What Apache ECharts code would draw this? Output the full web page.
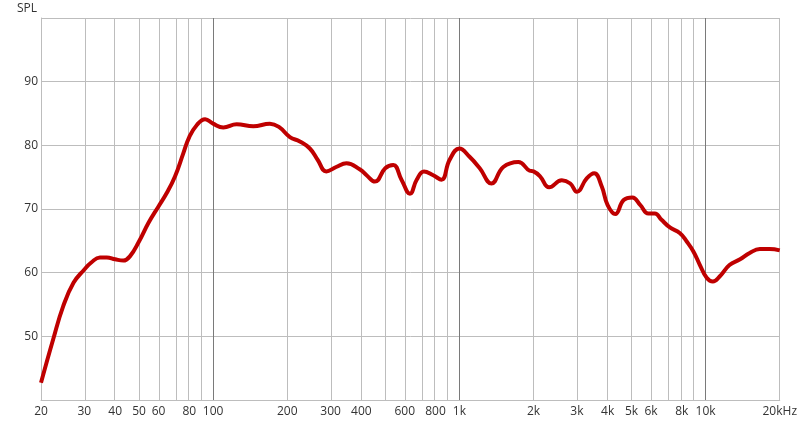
<!DOCTYPE html>
<html>
<head>
<meta charset="utf-8">
<script src="https://cdn.jsdelivr.net/npm/echarts@6/dist/echarts.min.js"></script>
<style>
html,body{margin:0;padding:0;background:#fff;}
#chart{width:800px;height:424px;}
</style>
</head>
<body>
<div id="chart"></div>
<script>
// Frequency (Hz) and SPL (dB)
var freqs = [20, 22.4, 24.6, 27.1, 30, 32, 34.7, 37, 40, 43.2, 46, 50, 54.6, 60, 64.8, 70, 75.6, 80, 85.9, 92.8, 100, 110, 124.6, 145.6, 170, 185, 205, 225, 247, 266, 288, 316, 348, 395, 420, 454, 500, 539, 582, 630, 671, 718, 783, 846, 912, 1000, 1100, 1210, 1350, 1508, 1735, 1932, 2000, 2130, 2314, 2606, 2820, 3000, 3290, 3528, 3790, 4000, 4296, 4648, 5040, 5432, 5850, 6220, 6620, 7160, 7870, 8380, 8930, 9480, 10100, 10700, 11400, 12500, 13800, 15100, 16600, 18200, 20000];
var spl = [42.7, 49.5, 54.7, 58.4, 60.5, 61.6, 62.4, 62.4, 62.1, 61.9, 62.6, 64.9, 67.8, 70.4, 72.5, 75.1, 78.7, 81.3, 83.2, 84.1, 83.4, 82.8, 83.3, 83.0, 83.4, 82.9, 81.3, 80.6, 79.5, 77.7, 75.9, 76.6, 77.2, 76.2, 75.3, 74.3, 76.4, 76.9, 74.6, 72.4, 74.6, 75.9, 75.3, 74.6, 77.7, 79.5, 78.2, 76.4, 74.0, 76.6, 77.4, 76.0, 75.9, 75.1, 73.4, 74.5, 74.0, 72.7, 74.8, 75.6, 73.5, 70.6, 69.2, 71.4, 71.8, 70.6, 69.3, 69.3, 68.3, 67.1, 66.2, 64.9, 63.3, 61.2, 59.2, 58.6, 59.4, 61.2, 62.1, 63.1, 63.7, 63.7, 63.5];

var tickFreqs = [20, 30, 40, 50, 60, 80, 100, 200, 300, 400, 600, 800, 1000, 2000, 3000, 4000, 5000, 6000, 8000, 10000, 20000];
var tickLabels = ['20', '30', '40', '50', '60', '80', '100', '200', '300', '400', '600', '800', '1k', '2k', '3k', '4k', '5k', '6k', '8k', '10k', '20kHz'];
var minorGridFreqs = [30, 40, 50, 60, 70, 80, 90, 200, 300, 400, 500, 600, 700, 800, 900, 2000, 3000, 4000, 5000, 6000, 7000, 8000, 9000, 20000];
var majorGridFreqs = [100, 1000, 10000];

var lg = function (f) { return Math.log10(f); };
var lineData = freqs.map(function (f, i) { return [lg(f), spl[i]]; });

var gridLines = minorGridFreqs.map(function (f) {
  return { xAxis: lg(f), lineStyle: { color: '#bdbdbd', width: 1, type: 'solid' } };
}).concat(majorGridFreqs.map(function (f) {
  return { xAxis: lg(f), lineStyle: { color: '#7a7a7a', width: 1, type: 'solid' } };
}));

var chart = echarts.init(document.getElementById('chart'), null, { renderer: 'canvas' });
chart.setOption({
  animation: false,
  backgroundColor: '#ffffff',
  textStyle: { fontFamily: 'Open Sans' },
  grid: { left: 41, right: 20, top: 18, bottom: 24, containLabel: false },
  xAxis: {
    type: 'value',
    min: lg(20),
    max: lg(20000),
    axisLine: { show: true, lineStyle: { color: '#bdbdbd', width: 1 } },
    axisTick: { show: false },
    splitLine: { show: false },
    axisLabel: {
      customValues: tickFreqs.map(lg),
      color: '#333',
      fontSize: 12,
      fontFamily: 'Open Sans',
      margin: 6,
      formatter: function (v) {
        for (var i = 0; i < tickFreqs.length; i++) {
          if (Math.abs(lg(tickFreqs[i]) - v) < 1e-6) return tickLabels[i];
        }
        return '';
      }
    }
  },
  yAxis: {
    type: 'value',
    min: 40,
    max: 100,
    interval: 10,
    name: 'SPL',
    nameLocation: 'end',
    nameGap: 3,
    nameTextStyle: { color: '#333', fontSize: 12, fontFamily: 'Open Sans', align: 'right', padding: [0, 4, 0, 0] },
    axisLine: { show: true, lineStyle: { color: '#bdbdbd', width: 1 } },
    axisTick: { show: false },
    splitLine: { show: true, lineStyle: { color: '#bdbdbd', width: 1 } },
    axisLabel: {
      color: '#333',
      fontSize: 12,
      fontFamily: 'Open Sans',
      margin: 3,
      formatter: function (v) { return (v === 40 || v === 100) ? '' : String(v); }
    }
  },
  series: [
    {
      type: 'line',
      z: 1,
      data: lineData,
      showSymbol: false,
      silent: true,
      lineStyle: { opacity: 0, width: 0 },
      markLine: {
        silent: true,
        symbol: ['none', 'none'],
        label: { show: false },
        animation: false,
        data: gridLines
      }
    },
    {
      type: 'line',
      z: 5,
      data: lineData,
      smooth: 0.45,
      showSymbol: false,
      silent: true,
      lineStyle: { color: '#bf0000', width: 4 }
    }
  ]
});
</script>
</body>
</html>
